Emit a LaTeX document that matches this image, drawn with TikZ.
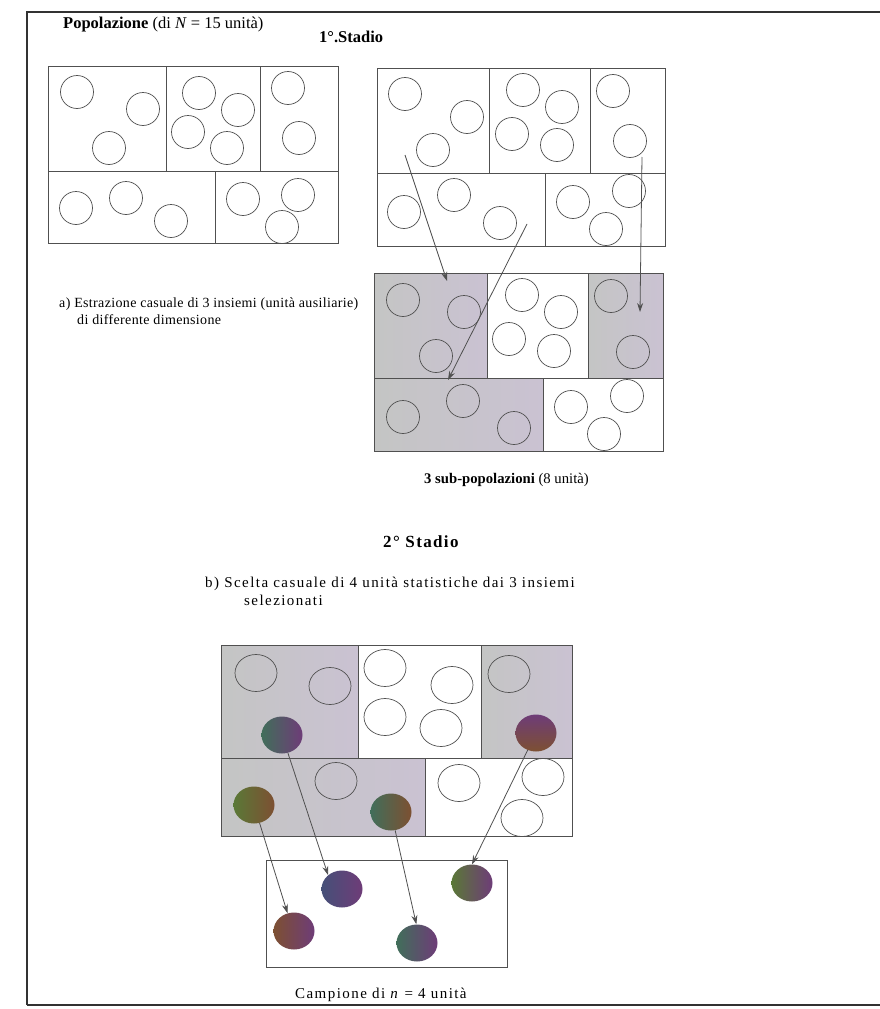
\documentclass[tikz,border=0pt]{standalone}
\usepackage{fontspec}
\setmainfont{Liberation Serif}
\newfontfamily\spacedfont[LetterSpace=9.6]{Liberation Serif}
\newfontfamily\titlespaced[LetterSpace=8]{Liberation Serif}
\newfontfamily\lightspaced[LetterSpace=2.5]{Liberation Serif}
\usetikzlibrary{shapes.geometric,arrows.meta}
\definecolor{ink}{RGB}{80,80,80}
\definecolor{frameink}{RGB}{50,50,50}
\definecolor{shadeA}{RGB}{196,197,196}
\definecolor{shadeB}{RGB}{202,194,210}
\definecolor{gA}{RGB}{65,110,90}
\definecolor{gB}{RGB}{90,120,55}
\definecolor{pA}{RGB}{110,60,120}
\definecolor{bA}{RGB}{125,80,50}
\definecolor{blA}{RGB}{70,80,120}
\begin{document}
\begin{tikzpicture}[x=1pt,y=-1pt,
  unit/.style={circle,draw=ink,line width=0.7pt,minimum size=33pt,inner sep=0pt},
  ovalunit/.style={ellipse,draw=ink,line width=0.7pt,minimum width=42pt,minimum height=37pt,inner sep=0pt},
  picked/.style={ellipse,minimum width=41pt,minimum height=37pt,inner sep=0pt},
  cellline/.style={draw=ink,line width=0.8pt},
  selcell/.style={left color=shadeA,right color=shadeB},
  arrowline/.style={draw=ink,line width=0.8pt,-{Stealth[length=9pt,width=6pt]}},
  lbl/.style={inner sep=0pt,anchor=base west}
]
\useasboundingbox (0,0) rectangle (880,1009);
\fill[white] (0,0) rectangle (880,1009);
% outer frame
\draw[draw=frameink,line width=1.5pt] (27,1005) -- (27,12) -- (885,12);
\draw[draw=frameink,line width=1.5pt] (27,1005) -- (885,1005);

% titles
\node[lbl] (poptitle) at (63,28) {\fontsize{16.5}{19}\selectfont\textbf{Popolazione} (di \textit{N} = 15 unità)};
\node[lbl] (stage1) at (319,42) {\fontsize{16.5}{19}\selectfont\textbf{1°.Stadio}};

% ---------- top-left box ----------
\draw[cellline] (48,66) rectangle (338,243);
\draw[cellline] (48,171) -- (338,171);
\draw[cellline] (166,66) -- (166,171);
\draw[cellline] (260,66) -- (260,171);
\draw[cellline] (215,171) -- (215,243);
\foreach \n/\x/\y in {a1/77/92, a2/143/109, a3/109/148, a4/199/93, a5/238/110, a6/188/132, a7/227/148,
  a8/288/88, a9/299/138, a10/76/208, a11/126/198, a12/171/221, a13/243/199, a14/298/195, a15/282/227}
  \node[unit] (\n) at (\x,\y) {};

% ---------- top-right box ----------
\draw[cellline] (377,68) rectangle (665,246);
\draw[cellline] (377,173) -- (665,173);
\draw[cellline] (489,68) -- (489,173);
\draw[cellline] (590,68) -- (590,173);
\draw[cellline] (545,173) -- (545,246);
\foreach \n/\x/\y in {b1/405/94, b2/467/117, b3/433/150, b4/523/90, b5/562/107, b6/512/134, b7/557/145,
  b8/613/91, b9/630/141, b10/404/212, b11/454/195, b12/500/223, b13/573/202, b14/629/191, b15/606/229}
  \node[unit] (\n) at (\x,\y) {};

% ---------- middle box (selected clusters) ----------
\fill[selcell] (374,273) rectangle (487,378);
\fill[selcell] (588,273) rectangle (663,378);
\fill[selcell] (374,378) rectangle (543,451);
\draw[cellline] (374,273) rectangle (663,451);
\draw[cellline] (374,378) -- (663,378);
\draw[cellline] (487,273) -- (487,378);
\draw[cellline] (588,273) -- (588,378);
\draw[cellline] (543,378) -- (543,451);
\foreach \n/\x/\y in {m1/403/300, m2/464/312, m3/436/356, m4/522/295, m5/561/312, m6/509/339, m7/554/351,
  m8/611/296, m9/633/352, m10/403/417, m11/463/401, m12/514/428, m13/571/407, m14/627/396, m15/604/434}
  \node[unit] (\n) at (\x,\y) {};

% arrows of stage 1
\coordinate (p1s) at (405,155);
\coordinate (p1e) at (447,281);
\coordinate (p2s) at (527,224);
\coordinate (p2e) at (448,380);
\coordinate (p3s) at (642,157);
\coordinate (p3e) at (640,312);
\draw[arrowline] (p1s) -- (p1e);
\draw[arrowline] (p2s) -- (p2e);
\draw[arrowline] (p3s) -- (p3e);

% labels
\node[lbl] (lbla1) at (59,307) {\fontsize{14}{16}\selectfont\lightspaced a) Estrazione casuale di 3 insiemi (unità ausiliarie)};
\node[lbl] (lbla2) at (77,324) {\fontsize{14}{16}\selectfont\lightspaced di differente dimensione};
\node[lbl] (subpop) at (424,483) {\fontsize{14.7}{17}\selectfont\textbf{3 sub-popolazioni} (8 unità)};

\node[lbl] (stage2) at (383,547) {\fontsize{17}{20}\selectfont\titlespaced\textbf{2° Stadio}};
\node[lbl] (lblb1) at (205,587) {\fontsize{15}{17}\selectfont\spacedfont b) Scelta casuale di 4 unità statistiche dai 3 insiemi};
\node[lbl] (lblb2) at (244,605) {\fontsize{15}{17}\selectfont\spacedfont selezionati};

% ---------- bottom stage box ----------
\fill[selcell] (221,645) rectangle (358,758);
\fill[selcell] (481,645) rectangle (572,758);
\fill[selcell] (221,758) rectangle (425,836);
\draw[cellline] (221,645) rectangle (572,836);
\draw[cellline] (221,758) -- (572,758);
\draw[cellline] (358,645) -- (358,758);
\draw[cellline] (481,645) -- (481,758);
\draw[cellline] (425,758) -- (425,836);
\foreach \n/\x/\y in {u1/256/673, u2/330/686, u3/385/668, u4/452/685, u5/385/717, u6/441/728,
  u7/509/674, u8/336/781, u9/459/783, u10/543/777, u11/522/818}
  \node[ovalunit] (\n) at (\x,\y) {};
\node[picked,left color=gA,middle color=blA,right color=pA] (s1) at (282,735) {};
\node[picked,top color=pA,bottom color=bA] (s2) at (536,733) {};
\node[picked,left color=gB,right color=bA] (s3) at (254,805) {};
\node[picked,left color=gA,right color=bA] (s4) at (391,812) {};

% ---------- sample box ----------
\draw[cellline] (266,860) rectangle (507,967);
\node[picked,left color=blA,middle color=gA,right color=pA] (t1) at (342,889) {};
\node[picked,left color=bA,middle color=gB,right color=pA] (t2) at (294,931) {};
\node[picked,left color=gA,middle color=blA,right color=pA] (t3) at (417,943) {};
\node[picked,left color=gB,middle color=bA,right color=pA] (t4) at (472,883) {};

\draw[arrowline] (s1) -- (t1.135);
\draw[arrowline] (s3) -- (t2.110);
\draw[arrowline] (s4) -- (t3.92);
\draw[arrowline] (s2) -- (t4.90);

\node[lbl] (sample) at (295,998) {\fontsize{15}{17}\selectfont\spacedfont Campione di \textit{n} = 4 unità};
\end{tikzpicture}
\end{document}
